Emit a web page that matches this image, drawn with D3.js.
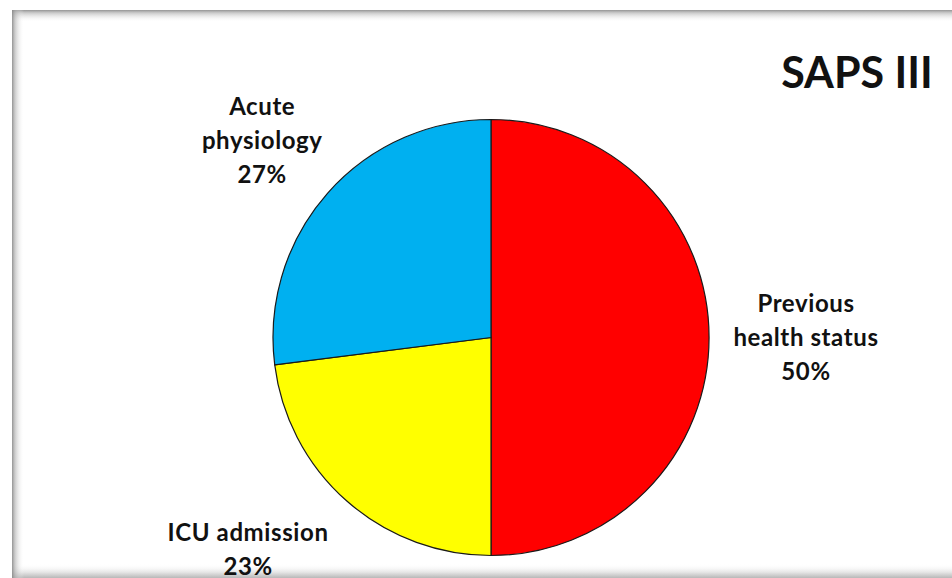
<!DOCTYPE html>
<html>
<head>
<meta charset="utf-8">
<script src="https://cdn.jsdelivr.net/npm/d3@7"></script>
<style>
  html, body { margin: 0; padding: 0; background: #ffffff; }
  svg { display: block; }
  text { font-family: Lato, "Open Sans", "DejaVu Sans", sans-serif; font-weight: 700; fill: #111; }
</style>
</head>
<body>
<svg id="chart" width="952" height="578"></svg>
<script>
// SAPS III score composition
const categories = ["Previous health status", "ICU admission", "Acute physiology"];
const values = [50, 23, 27];
const colors = ["#ff0000", "#ffff00", "#00b0f0"];
const labelLines = [["Previous", "health status"], ["ICU admission"], ["Acute", "physiology"]];
const title = "SAPS III";

const W = 952, H = 578;
const svg = d3.select("#chart");
const defs = svg.append("defs");

// panel frame with soft inner shadow
function grad(id, x1, y1, x2, y2, stops) {
  const g = defs.append("linearGradient").attr("id", id)
    .attr("x1", x1).attr("y1", y1).attr("x2", x2).attr("y2", y2);
  stops.forEach(s => g.append("stop").attr("offset", s[0]).attr("stop-color", s[1]).attr("stop-opacity", s[2]));
}
grad("shTop", 0, 0, 0, 1, [[0, "#888", 0.9], [0.25, "#aaa", 0.6], [1, "#fff", 0]]);
grad("shLeft", 0, 0, 1, 0, [[0, "#888", 0.9], [0.25, "#aaa", 0.6], [1, "#fff", 0]]);
grad("shBottom", 0, 0, 0, 1, [[0, "#fff", 0], [0.6, "#e4e4e4", 1], [1, "#b8b8b8", 1]]);

const fx = 12, fy = 10;
svg.append("rect").attr("x", fx).attr("y", fy).attr("width", W - fx).attr("height", H - fy).attr("fill", "#fff");
svg.append("rect").attr("x", fx).attr("y", H - 14).attr("width", W - fx).attr("height", 14).attr("fill", "url(#shBottom)");
svg.append("rect").attr("x", fx).attr("y", fy).attr("width", W - fx).attr("height", 12).attr("fill", "url(#shTop)");
svg.append("rect").attr("x", fx).attr("y", fy).attr("width", 12).attr("height", H - fy).attr("fill", "url(#shLeft)");

// pie
const cx = 491, cy = 337.5, r = 218;
const data = categories.map((c, i) => ({ name: c, value: values[i], color: colors[i], lines: labelLines[i] }));
const pie = d3.pie().value(d => d.value).sort(null);
const arc = d3.arc().innerRadius(0).outerRadius(r);
const arcs = pie(data);

const g = svg.append("g").attr("transform", `translate(${cx},${cy})`);
g.selectAll("path").data(arcs).join("path")
  .attr("d", arc)
  .attr("fill", d => d.data.color)
  .attr("stroke", "#1a1a1a")
  .attr("stroke-width", 1.2);

// outside-end labels: placed along each slice's mid-angle, nudged to stay inside the panel
const labelDist = { "Previous health status": 315, "ICU admission": 322, "Acute physiology": 301 };
const labelShift = { "Previous health status": [0, 0], "ICU admission": [-30, -30], "Acute physiology": [-3, 2] };
const lineH = 34;
arcs.forEach(a => {
  const mid = (a.startAngle + a.endAngle) / 2;
  const d = labelDist[a.data.name];
  const s = labelShift[a.data.name];
  const x = Math.sin(mid) * d + s[0];
  const y = -Math.cos(mid) * d + s[1];
  const lines = a.data.lines.concat([d3.format(".0f")(a.data.value) + "%"]);
  const t = g.append("text").attr("text-anchor", "middle")
    .style("font-size", "24px").style("letter-spacing", "0.6px");
  const y0 = y - (lines.length - 1) * lineH / 2;
  lines.forEach((ln, i) => {
    t.append("tspan").attr("x", x).attr("y", y0 + i * lineH).attr("dy", "0.36em").text(ln);
  });
});

svg.append("text").attr("x", 857).attr("y", 88).attr("text-anchor", "middle")
  .style("font-size", "43px").text(title);
</script>
</body>
</html>
